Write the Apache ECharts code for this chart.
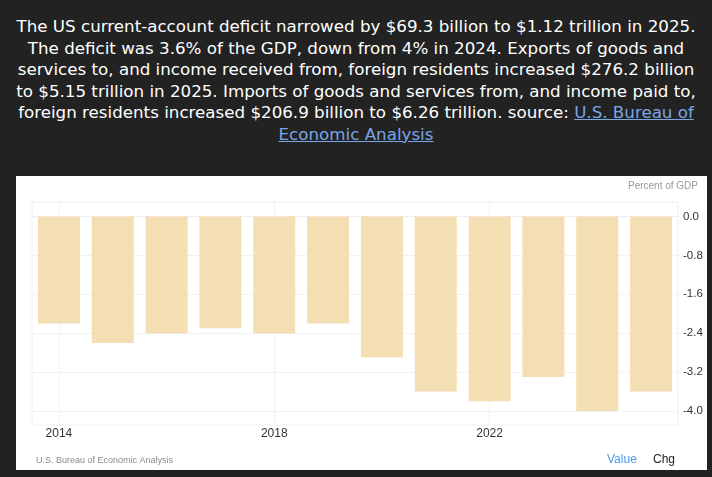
<!DOCTYPE html>
<html>
<head>
<meta charset="utf-8">
<script src="https://cdn.jsdelivr.net/npm/echarts@6/dist/echarts.min.js"></script>
<style>
  html, body { margin: 0; padding: 0; background: #222222; width: 712px; height: 477px; overflow: hidden; }
  #desc {
    position: absolute; left: 0; top: 16px; width: 712px;
    color: #ffffff; text-align: center;
    font-family: "DejaVu Sans", sans-serif;
    font-size: 16.7px; line-height: 21.6px;
  }
  #desc span { white-space: nowrap; }
  #desc a { color: #7aa6e6; text-decoration: underline; }
  #chart { position: absolute; left: 16px; top: 176px; width: 691px; height: 294px; background: #ffffff; }
</style>
</head>
<body>
<div id="desc">
  <span>The US current-account deficit narrowed by $69.3 billion to $1.12 trillion in 2025.</span><br>
  <span>The deficit was 3.6% of the GDP, down from 4% in 2024. Exports of goods and</span><br>
  <span>services to, and income received from, foreign residents increased $276.2 billion</span><br>
  <span>to $5.15 trillion in 2025. Imports of goods and services from, and income paid to,</span><br>
  <span>foreign residents increased $206.9 billion to $6.26 trillion. source: <a href="#">U.S. Bureau of</a></span><br>
  <span><a href="#">Economic Analysis</a></span>
</div>
<div id="chart"></div>
<script>
// current account balance, percent of GDP
var years = ['2014', '2015', '2016', '2017', '2018', '2019', '2020', '2021', '2022', '2023', '2024', '2025'];
var values = [-2.2, -2.6, -2.4, -2.3, -2.4, -2.2, -2.9, -3.6, -3.8, -3.3, -4.0, -3.6];
var yTicks = [0, -0.8, -1.6, -2.4, -3.2, -4.0];

var myChart = echarts.init(document.getElementById('chart'));

option = {
    animation: false,
    backgroundColor: '#ffffff',
    grid: {
        left: 16, right: 29, top: 26, bottom: 45,
        show: true, borderColor: '#f0f0f0', borderWidth: 1
    },
    xAxis: {
        type: 'category',
        data: years,
        axisLine: { show: true, lineStyle: { color: '#eeeeee' } },
        axisTick: { show: false },
        axisLabel: {
            interval: 3, color: '#333333', fontSize: 12,
            fontFamily: 'Liberation Sans, Arial', margin: 3
        },
        splitLine: { show: true, interval: 3, alignWithLabel: true, lineStyle: { color: '#f2f2f2' } }
    },
    yAxis: {
        type: 'value',
        position: 'right',
        min: -4.29,
        max: 0.3,
        axisLine: { show: false },
        axisTick: { show: false, customValues: yTicks },
        axisLabel: {
            customValues: yTicks,
            color: '#333333', fontSize: 11.5,
            fontFamily: 'Liberation Sans, Arial', margin: 5,
            formatter: function (v) { return v.toFixed(1); }
        },
        splitLine: { show: true, lineStyle: { color: '#f2f2f2' } }
    },
    graphic: [
        { type: 'text', right: 9, top: 5, style: { text: 'Percent of GDP', fill: '#999999', fontSize: 10, fontFamily: 'Liberation Sans, Arial' } },
        { type: 'text', left: 20, top: 280, style: { text: 'U.S. Bureau of Economic Analysis', fill: '#8a8a8a', fontSize: 9, fontFamily: 'Liberation Sans, Arial' } },
        { type: 'text', left: 591, top: 278, style: { text: 'Value', fill: '#4a9be8', fontSize: 12, fontFamily: 'Liberation Sans, Arial' } },
        { type: 'text', left: 637, top: 278, style: { text: 'Chg', fill: '#222222', fontSize: 12, fontFamily: 'Liberation Sans, Arial' } }
    ],
    series: [
        {
            name: 'Value',
            type: 'bar',
            data: values,
            barCategoryGap: '22%',
            itemStyle: { color: '#f4deb3' }
        }
    ]
};

myChart.setOption(option);
</script>
</body>
</html>
